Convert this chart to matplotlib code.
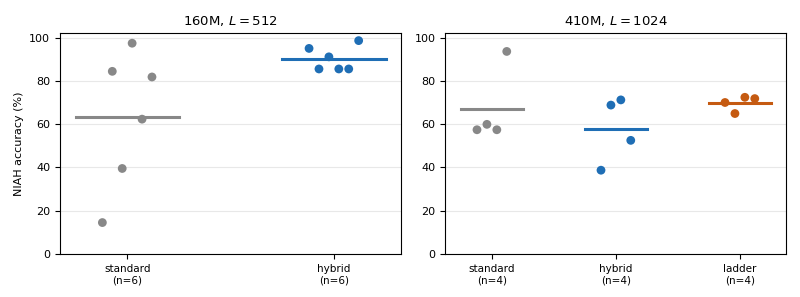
import numpy as np
import matplotlib
matplotlib.use("Agg")
import matplotlib.pyplot as plt

# panel 1: 160M, L=512
p1_groups = ["standard", "hybrid"]
p1_vals = [
    [14.5, 84.4, 39.5, 97.4, 62.3, 81.8],
    [95.0, 85.5, 91.1, 85.5, 85.5, 98.6],
]
# panel 2: 410M, L=1024
p2_groups = ["standard", "hybrid", "ladder"]
p2_vals = [
    [57.4, 59.9, 57.4, 93.6],
    [38.7, 68.8, 71.2, 52.5],
    [70.0, 64.9, 72.4, 71.8],
]

colors = {"standard": "#888888", "hybrid": "#1f6eb5", "ladder": "#c55a11"}

fig, axes = plt.subplots(1, 2, figsize=(8, 2.97), dpi=100)


def draw(ax, groups, vals, title):
    for i, (g, v) in enumerate(zip(groups, vals)):
        c = colors[g]
        xs = i + np.linspace(-0.12, 0.12, len(v))
        ax.scatter(xs, v, s=40, color=c, zorder=3, edgecolors="none")
        ax.plot([i - 0.25, i + 0.25], [np.mean(v)] * 2, color=c, lw=2.2, zorder=2)
    ax.set_xticks(range(len(groups)))
    ax.set_xticklabels(["%s\n(n=%d)" % (g, len(v)) for g, v in zip(groups, vals)], fontsize=7.5)
    ax.tick_params(axis="y", labelsize=8)
    ax.set_ylim(0, 102)
    ax.yaxis.grid(True, color="#e8e8e8", lw=0.8)
    ax.set_axisbelow(True)
    ax.set_title(title, fontsize=9.5)


draw(axes[0], p1_groups, p1_vals, "160M, $L=512$")
draw(axes[1], p2_groups, p2_vals, "410M, $L=1024$")
axes[0].set_ylabel("NIAH accuracy (%)", fontsize=8)

fig.subplots_adjust(left=0.075, right=0.983, top=0.888, bottom=0.145, wspace=0.13)
fig.savefig("out.png")
